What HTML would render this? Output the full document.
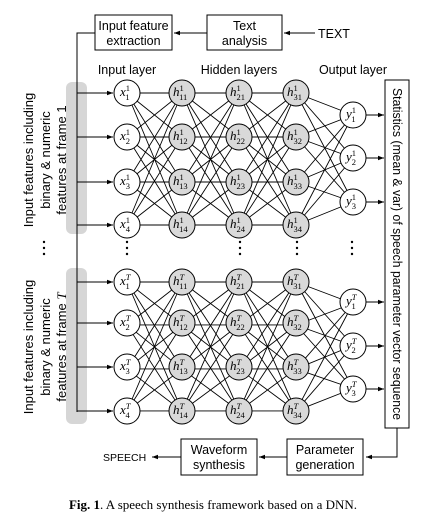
<!DOCTYPE html>
<html><head><meta charset="utf-8"><style>
html,body{margin:0;padding:0;background:#fff}
svg{display:block}
.s{font-family:"Liberation Sans",sans-serif;fill:#000}
.m{font-family:"Liberation Serif",serif;font-style:italic;font-size:13px;fill:#000}
.m tspan{font-size:8.5px;font-style:normal}
.m tspan.i{font-style:italic}
</style></head><body>
<svg width="435" height="518" viewBox="0 0 435 518" xmlns="http://www.w3.org/2000/svg">
<defs>
<marker id="a" markerWidth="6" markerHeight="6" refX="6" refY="3" orient="auto" markerUnits="userSpaceOnUse"><path d="M0,0.8L6,3L0,5.2z" fill="#000"/></marker>
<path id="P" fill="none" stroke="#000" stroke-width="0.9" d="M0 0L57 0M0 0L57 44M0 0L57 89M0 0L57 132M0 44L57 0M0 44L57 44M0 44L57 89M0 44L57 132M0 89L57 0M0 89L57 44M0 89L57 89M0 89L57 132M0 132L57 0M0 132L57 44M0 132L57 89M0 132L57 132"/>
<path id="Q" fill="none" stroke="#000" stroke-width="0.9" d="M0 0L57 22M0 0L57 65M0 0L57 109M0 44L57 22M0 44L57 65M0 44L57 109M0 89L57 22M0 89L57 65M0 89L57 109M0 132L57 22M0 132L57 65M0 132L57 109"/>
</defs>
<rect x="66" y="82" width="21" height="152" rx="6" fill="#d6d6d6"/>
<rect x="66" y="268" width="21" height="156" rx="6" fill="#d6d6d6"/>
<rect x="95" y="15" width="77" height="35" fill="#fff" stroke="#000"/>
<text class="s" font-size="12.5" x="133.5" y="30" text-anchor="middle">Input feature</text>
<text class="s" font-size="12.5" x="133.5" y="45" text-anchor="middle">extraction</text>
<rect x="207" y="15" width="75" height="35" fill="#fff" stroke="#000"/>
<text class="s" font-size="12.5" x="244.5" y="30" text-anchor="middle">Text</text>
<text class="s" font-size="12.5" x="244.5" y="45" text-anchor="middle">analysis</text>
<text class="s" font-size="12.5" x="318" y="38">TEXT</text>
<g stroke="#000" stroke-width="1" fill="none">
<line x1="315" y1="33" x2="284" y2="33" marker-end="url(#a)"/>
<line x1="207" y1="33" x2="174" y2="33" marker-end="url(#a)"/>
<polyline points="95,33 77,33 77,412"/>
<line x1="77" y1="93" x2="113" y2="93" marker-end="url(#a)"/>
<line x1="77" y1="137" x2="113" y2="137" marker-end="url(#a)"/>
<line x1="77" y1="182" x2="113" y2="182" marker-end="url(#a)"/>
<line x1="77" y1="225" x2="113" y2="225" marker-end="url(#a)"/>
<line x1="77" y1="282" x2="113" y2="282" marker-end="url(#a)"/>
<line x1="77" y1="323" x2="113" y2="323" marker-end="url(#a)"/>
<line x1="77" y1="367" x2="113" y2="367" marker-end="url(#a)"/>
<line x1="77" y1="411" x2="113" y2="411" marker-end="url(#a)"/>
<line x1="366" y1="115" x2="384" y2="115" marker-end="url(#a)"/>
<line x1="366" y1="158" x2="384" y2="158" marker-end="url(#a)"/>
<line x1="366" y1="202" x2="384" y2="202" marker-end="url(#a)"/>
<line x1="366" y1="302" x2="384" y2="302" marker-end="url(#a)"/>
<line x1="366" y1="346" x2="384" y2="346" marker-end="url(#a)"/>
<line x1="366" y1="389" x2="384" y2="389" marker-end="url(#a)"/>
</g>
<use href="#P" transform="translate(127,93) scale(0.965,1)"/>
<use href="#P" transform="translate(182,93)"/>
<use href="#P" transform="translate(239,93)"/>
<use href="#Q" transform="translate(296,93)"/>
<use href="#P" transform="translate(127,282) scale(0.965,0.977)"/>
<use href="#P" transform="translate(182,282) scale(1,0.977)"/>
<use href="#P" transform="translate(239,282) scale(1,0.977)"/>
<use href="#Q" transform="translate(296,282) scale(1,0.977)"/>
<g stroke="#000" stroke-width="1">
<g fill="#fff">
<circle cx="127" cy="93" r="13"/><circle cx="127" cy="137" r="13"/><circle cx="127" cy="182" r="13"/><circle cx="127" cy="225" r="13"/>
<circle cx="127" cy="282" r="13"/><circle cx="127" cy="323" r="13"/><circle cx="127" cy="367" r="13"/><circle cx="127" cy="411" r="13"/>
<circle cx="353" cy="115" r="13"/><circle cx="353" cy="158" r="13"/><circle cx="353" cy="202" r="13"/>
<circle cx="353" cy="302" r="13"/><circle cx="353" cy="346" r="13"/><circle cx="353" cy="389" r="13"/>
</g>
<g fill="#d9d9d9">
<circle cx="182" cy="93" r="13"/><circle cx="182" cy="137" r="13"/><circle cx="182" cy="182" r="13"/><circle cx="182" cy="225" r="13"/>
<circle cx="239" cy="93" r="13"/><circle cx="239" cy="137" r="13"/><circle cx="239" cy="182" r="13"/><circle cx="239" cy="225" r="13"/>
<circle cx="296" cy="93" r="13"/><circle cx="296" cy="137" r="13"/><circle cx="296" cy="182" r="13"/><circle cx="296" cy="225" r="13"/>
<circle cx="182" cy="282" r="13"/><circle cx="182" cy="323" r="13"/><circle cx="182" cy="367" r="13"/><circle cx="182" cy="411" r="13"/>
<circle cx="239" cy="282" r="13"/><circle cx="239" cy="323" r="13"/><circle cx="239" cy="367" r="13"/><circle cx="239" cy="411" r="13"/>
<circle cx="296" cy="282" r="13"/><circle cx="296" cy="323" r="13"/><circle cx="296" cy="367" r="13"/><circle cx="296" cy="411" r="13"/>
</g>
</g>
<g class="m">
<text x="120" y="96">x<tspan dy="-5">1</tspan><tspan dx="-4.3" dy="9">1</tspan></text>
<text x="120" y="140">x<tspan dy="-5">1</tspan><tspan dx="-4.3" dy="9">2</tspan></text>
<text x="120" y="185">x<tspan dy="-5">1</tspan><tspan dx="-4.3" dy="9">3</tspan></text>
<text x="120" y="228">x<tspan dy="-5">1</tspan><tspan dx="-4.3" dy="9">4</tspan></text>
<text x="173" y="96">h<tspan dy="-5">1</tspan><tspan dx="-4.3" dy="9">11</tspan></text>
<text x="173" y="140">h<tspan dy="-5">1</tspan><tspan dx="-4.3" dy="9">12</tspan></text>
<text x="173" y="185">h<tspan dy="-5">1</tspan><tspan dx="-4.3" dy="9">13</tspan></text>
<text x="173" y="228">h<tspan dy="-5">1</tspan><tspan dx="-4.3" dy="9">14</tspan></text>
<text x="230" y="96">h<tspan dy="-5">1</tspan><tspan dx="-4.3" dy="9">21</tspan></text>
<text x="230" y="140">h<tspan dy="-5">1</tspan><tspan dx="-4.3" dy="9">22</tspan></text>
<text x="230" y="185">h<tspan dy="-5">1</tspan><tspan dx="-4.3" dy="9">23</tspan></text>
<text x="230" y="228">h<tspan dy="-5">1</tspan><tspan dx="-4.3" dy="9">24</tspan></text>
<text x="287" y="96">h<tspan dy="-5">1</tspan><tspan dx="-4.3" dy="9">31</tspan></text>
<text x="287" y="140">h<tspan dy="-5">1</tspan><tspan dx="-4.3" dy="9">32</tspan></text>
<text x="287" y="185">h<tspan dy="-5">1</tspan><tspan dx="-4.3" dy="9">33</tspan></text>
<text x="287" y="228">h<tspan dy="-5">1</tspan><tspan dx="-4.3" dy="9">34</tspan></text>
<text x="346" y="118">y<tspan dy="-5">1</tspan><tspan dx="-4.3" dy="9">1</tspan></text>
<text x="346" y="161">y<tspan dy="-5">1</tspan><tspan dx="-4.3" dy="9">2</tspan></text>
<text x="346" y="205">y<tspan dy="-5">1</tspan><tspan dx="-4.3" dy="9">3</tspan></text>
<text x="120" y="285">x<tspan class="i" dy="-5">T</tspan><tspan dx="-5" dy="9">1</tspan></text>
<text x="120" y="326">x<tspan class="i" dy="-5">T</tspan><tspan dx="-5" dy="9">2</tspan></text>
<text x="120" y="370">x<tspan class="i" dy="-5">T</tspan><tspan dx="-5" dy="9">3</tspan></text>
<text x="120" y="414">x<tspan class="i" dy="-5">T</tspan><tspan dx="-5" dy="9">4</tspan></text>
<text x="173" y="285">h<tspan class="i" dy="-5">T</tspan><tspan dx="-5" dy="9">11</tspan></text>
<text x="173" y="326">h<tspan class="i" dy="-5">T</tspan><tspan dx="-5" dy="9">12</tspan></text>
<text x="173" y="370">h<tspan class="i" dy="-5">T</tspan><tspan dx="-5" dy="9">13</tspan></text>
<text x="173" y="414">h<tspan class="i" dy="-5">T</tspan><tspan dx="-5" dy="9">14</tspan></text>
<text x="230" y="285">h<tspan class="i" dy="-5">T</tspan><tspan dx="-5" dy="9">21</tspan></text>
<text x="230" y="326">h<tspan class="i" dy="-5">T</tspan><tspan dx="-5" dy="9">22</tspan></text>
<text x="230" y="370">h<tspan class="i" dy="-5">T</tspan><tspan dx="-5" dy="9">23</tspan></text>
<text x="230" y="414">h<tspan class="i" dy="-5">T</tspan><tspan dx="-5" dy="9">24</tspan></text>
<text x="287" y="285">h<tspan class="i" dy="-5">T</tspan><tspan dx="-5" dy="9">31</tspan></text>
<text x="287" y="326">h<tspan class="i" dy="-5">T</tspan><tspan dx="-5" dy="9">32</tspan></text>
<text x="287" y="370">h<tspan class="i" dy="-5">T</tspan><tspan dx="-5" dy="9">33</tspan></text>
<text x="287" y="414">h<tspan class="i" dy="-5">T</tspan><tspan dx="-5" dy="9">34</tspan></text>
<text x="346" y="305">y<tspan class="i" dy="-5">T</tspan><tspan dx="-5" dy="9">1</tspan></text>
<text x="346" y="349">y<tspan class="i" dy="-5">T</tspan><tspan dx="-5" dy="9">2</tspan></text>
<text x="346" y="392">y<tspan class="i" dy="-5">T</tspan><tspan dx="-5" dy="9">3</tspan></text>
</g>
<text class="s" font-size="12.5" x="127" y="74" text-anchor="middle">Input layer</text>
<text class="s" font-size="12.5" x="239" y="74" text-anchor="middle">Hidden layers</text>
<text class="s" font-size="12.5" x="353" y="74" text-anchor="middle">Output layer</text>
<g fill="#000">
<circle cx="44" cy="242" r="1.2"/><circle cx="44" cy="248" r="1.2"/><circle cx="44" cy="254" r="1.2"/>
<circle cx="127" cy="242" r="1.2"/><circle cx="127" cy="248" r="1.2"/><circle cx="127" cy="254" r="1.2"/>
<circle cx="240" cy="242" r="1.2"/><circle cx="240" cy="248" r="1.2"/><circle cx="240" cy="254" r="1.2"/>
<circle cx="297" cy="242" r="1.2"/><circle cx="297" cy="248" r="1.2"/><circle cx="297" cy="254" r="1.2"/>
<circle cx="352" cy="242" r="1.2"/><circle cx="352" cy="248" r="1.2"/><circle cx="352" cy="254" r="1.2"/>
</g>
<g class="s" font-size="13" text-anchor="middle">
<text transform="translate(33,160) rotate(-90)">Input features including</text>
<text transform="translate(50,160) rotate(-90)">binary &amp; numeric</text>
<text transform="translate(66,160) rotate(-90)">features at frame 1</text>
<text transform="translate(33,347) rotate(-90)">Input features including</text>
<text transform="translate(50,347) rotate(-90)">binary &amp; numeric</text>
<text transform="translate(66,347) rotate(-90)">features at frame <tspan font-family="Liberation Serif" font-style="italic">T</tspan></text>
</g>
<rect x="385" y="80" width="24" height="348" fill="#fff" stroke="#000"/>
<text class="s" font-size="12.5" transform="translate(393,254) rotate(90)" text-anchor="middle" textLength="332" lengthAdjust="spacingAndGlyphs">Statistics (mean &amp; var) of speech parameter vector sequence</text>
<rect x="181" y="439" width="76" height="36" fill="#fff" stroke="#000"/>
<text class="s" font-size="12.5" x="219" y="454" text-anchor="middle">Waveform</text>
<text class="s" font-size="12.5" x="219" y="469" text-anchor="middle">synthesis</text>
<rect x="287" y="439" width="76" height="36" fill="#fff" stroke="#000"/>
<text class="s" font-size="12.5" x="325" y="454" text-anchor="middle">Parameter</text>
<text class="s" font-size="12.5" x="325" y="469" text-anchor="middle">generation</text>
<text class="s" font-size="10.5" x="103" y="461">SPEECH</text>
<g stroke="#000" stroke-width="1" fill="none">
<polyline points="397,428 397,457 366,457" marker-end="url(#a)"/>
<line x1="287" y1="457" x2="259" y2="457" marker-end="url(#a)"/>
<line x1="181" y1="457" x2="152" y2="457" marker-end="url(#a)"/>
</g>
<text x="213" y="509" text-anchor="middle" font-family="Liberation Serif,serif" font-size="13"><tspan font-weight="bold">Fig. 1</tspan>.  A speech synthesis framework based on a DNN.</text>
</svg>
</body></html>
